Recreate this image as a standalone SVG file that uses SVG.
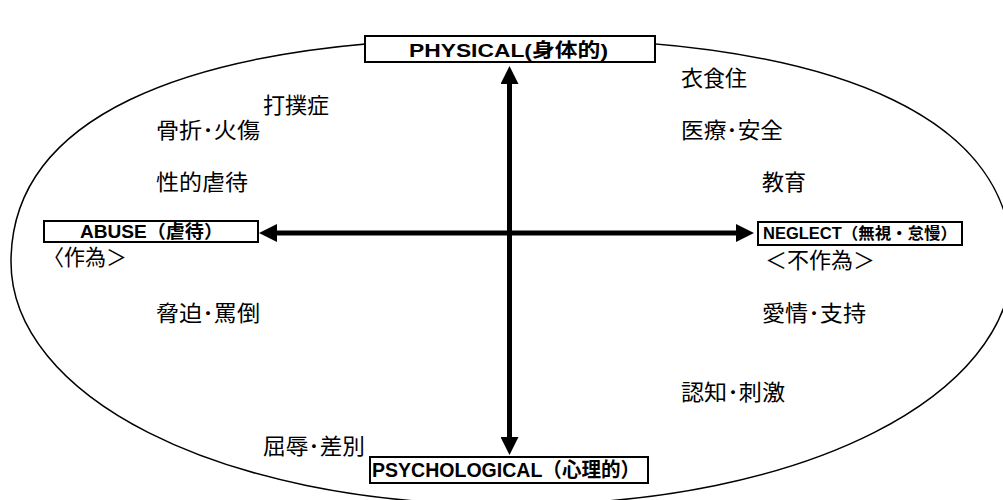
<svg xmlns="http://www.w3.org/2000/svg" width="1003" height="500" viewBox="0 0 1003 500">
  <style>
    .frame { fill: none; stroke: #000; stroke-width: 1.5; }
    .box { fill: #fff; stroke: #000; stroke-width: 2; }
    .axis { fill: none; stroke: #000; stroke-width: 5; }
    .head { font-family: "Liberation Sans", "Noto Sans CJK JP", sans-serif; font-weight: bold; fill: #000; }
    .lbl { font-family: "Noto Sans CJK JP", "Liberation Sans", sans-serif; font-size: 22px; fill: #000; }
  </style>
  <defs>
    <marker id="arrow" viewBox="0 0 18 18" refX="1" refY="9" markerWidth="18" markerHeight="18" markerUnits="userSpaceOnUse" orient="auto-start-reverse">
      <path d="M0,0 L18,9 L0,18 Z" fill="#000"/>
    </marker>
  </defs>
  <rect width="1003" height="500" fill="#fff"/>
  <path class="frame" d="M11,262 C11,128 161,38 511,38 C861,38 1012,128 1012,262 C1012,393 811,505 511,505 C211,505 11,393 11,262 Z"/>

  <g id="connectors">
    <line class="axis" x1="509.5" y1="83" x2="509.5" y2="438" marker-start="url(#arrow)" marker-end="url(#arrow)"/>
    <line class="axis" x1="276" y1="233" x2="737" y2="233" marker-start="url(#arrow)" marker-end="url(#arrow)"/>
  </g>

  <g id="physical">
    <rect class="box" x="365" y="36" width="290" height="26"/>
    <text class="head" x="409" y="57" font-size="19" textLength="199" lengthAdjust="spacingAndGlyphs">PHYSICAL(身体的)</text>
  </g>
  <g id="abuse">
    <rect class="box" x="44" y="221" width="214" height="21"/>
    <text class="head" x="80" y="238" font-size="18" textLength="143" lengthAdjust="spacingAndGlyphs">ABUSE（虐待）</text>
    <text class="lbl" x="43" y="265" font-size="19" textLength="84" lengthAdjust="spacingAndGlyphs">〈作為＞</text>
  </g>
  <g id="neglect">
    <rect class="box" x="758" y="222" width="204" height="23"/>
    <text class="head" x="763" y="239" font-size="16" textLength="194" lengthAdjust="spacingAndGlyphs">NEGLECT（無視・怠慢）</text>
    <text class="lbl" x="765" y="268" textLength="110" lengthAdjust="spacingAndGlyphs">＜不作為＞</text>
  </g>
  <g id="psychological">
    <rect class="box" x="370" y="457" width="278" height="26"/>
    <text class="head" x="372" y="477" font-size="20" textLength="268" lengthAdjust="spacingAndGlyphs">PSYCHOLOGICAL（心理的）</text>
  </g>

  <g id="labels-abuse">
    <text class="lbl" x="263" y="113">打撲症</text>
    <text class="lbl" x="156" y="138" textLength="104" lengthAdjust="spacingAndGlyphs">骨折･火傷</text>
    <text class="lbl" x="156" y="190" textLength="92" lengthAdjust="spacingAndGlyphs">性的虐待</text>
    <text class="lbl" x="156" y="321" textLength="104" lengthAdjust="spacingAndGlyphs">脅迫･罵倒</text>
    <text class="lbl" x="263" y="454" textLength="102" lengthAdjust="spacingAndGlyphs">屈辱･差別</text>
  </g>
  <g id="labels-neglect">
    <text class="lbl" x="681" y="86">衣食住</text>
    <text class="lbl" x="681" y="138" textLength="102" lengthAdjust="spacingAndGlyphs">医療･安全</text>
    <text class="lbl" x="762" y="190">教育</text>
    <text class="lbl" x="762" y="321" textLength="104" lengthAdjust="spacingAndGlyphs">愛情･支持</text>
    <text class="lbl" x="681" y="400" textLength="104" lengthAdjust="spacingAndGlyphs">認知･刺激</text>
  </g>
</svg>
